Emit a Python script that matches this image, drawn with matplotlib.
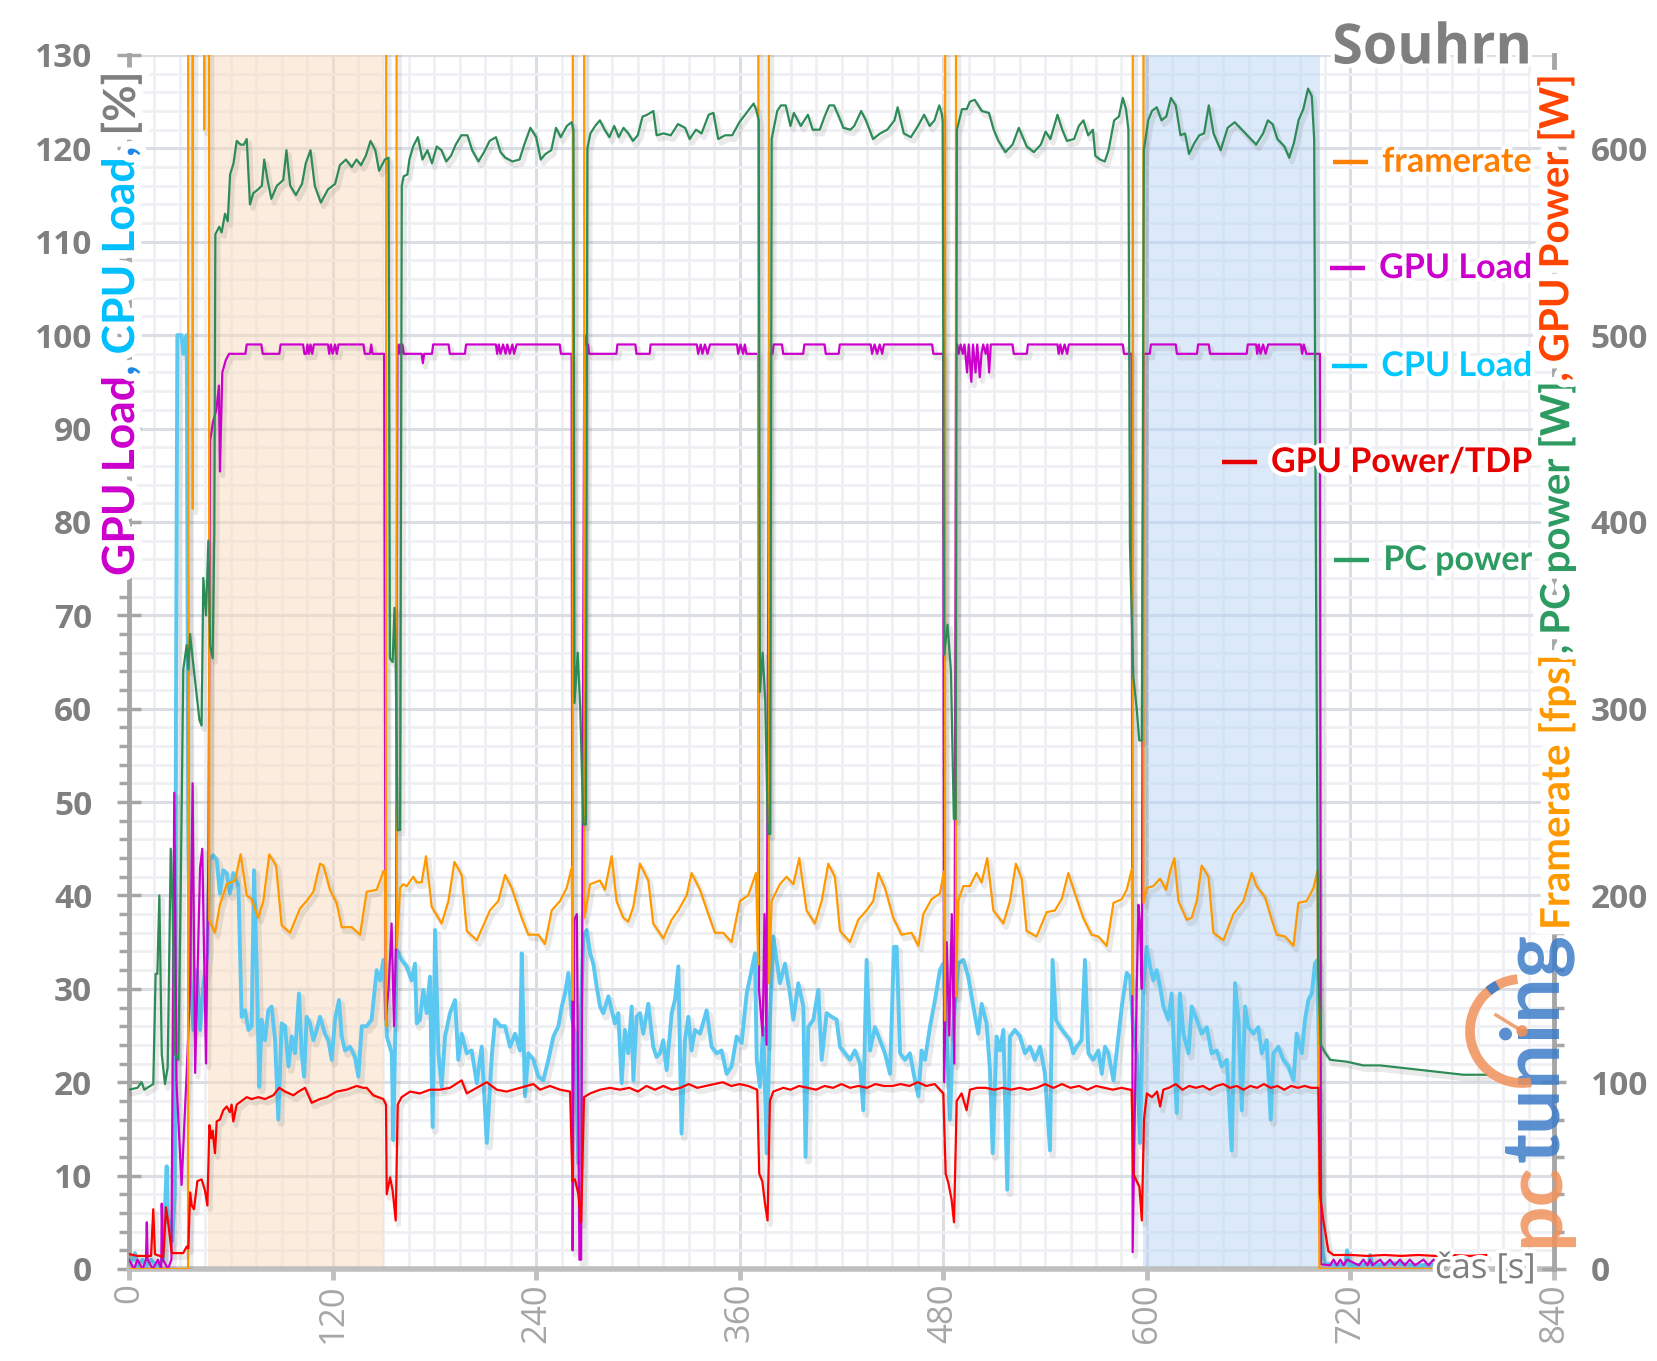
import matplotlib
matplotlib.use("Agg")
import matplotlib.pyplot as plt
from matplotlib import patheffects as pe
from matplotlib.patches import Arc, Circle
from matplotlib.lines import Line2D
from matplotlib.ticker import MultipleLocator

# ---------------- data ----------------
# time axis in seconds; loads in %, framerate in fps, power in W

# framerate [fps] (right axis) - values above 650 are loading spikes off the chart
fps_t = [0, 34.8, 35.2, 36.2, 37.6, 38.9, 44.0, 44.3, 44.6, 46.5, 47.3,
         50.7, 53.6, 57.6, 62.5, 65.8, 69.4, 72.3, 76.2, 79.2, 82.7, 86.7, 90, 94.9, 100.8,
         104.7, 108.7, 112.6, 114.6, 118.5, 122.4, 125.4, 131.3, 136.2, 140.1, 146, 150, 151,
         151.5, 152, 157.2, 157.8,
         159.8, 161.7, 163.7, 167.6, 169.6, 172.5, 175.1, 178.4, 184.3, 188.3, 191.8, 196.1,
         199.1, 205, 212.8, 217.7, 221.7, 225.6, 231.5, 235.4, 241.3, 245.2, 249.2, 254.1, 258,
         261, 261.5, 262, 267.8, 268.4,
         271.8, 277.6, 280.5, 284.5, 287.4, 291.4, 294.3, 297.3, 301.2, 306.1, 309, 314.9,
         319.9, 323.8, 328.7, 331.6, 336.6, 341.5, 345.4, 350.3, 355.2, 360.1, 365, 369.6,
         370.9, 371.4, 376.8, 377.2,
         378.8, 383.7, 387.6, 391.6, 395.1, 399.4, 404.3, 408.3, 412.2, 416.1, 419.1, 425,
         429.9, 434.8, 438.7, 441.7, 445.6, 450.5, 455.4, 461.3, 465.3, 468.2, 473.1, 478,
         480.4, 481, 481.5, 487.2, 487.5,
         488.8, 491.8, 495.7, 499.6, 502.6, 505.9, 509.5, 515.4, 519.3, 522.8, 526.2, 529.1,
         535, 540.9, 545.8, 549.8, 553.7, 557.6, 562.5, 567.4, 571.4, 576.3, 580.3, 585.2,
         588.1, 591.1, 591.6, 592, 597.6, 598,
         599.9, 603.8, 607.8, 611.3, 613.7, 616.2, 618.6, 623.5, 626.4, 629.4, 632.3, 636.3,
         639.2, 645.1, 651, 656.9, 661.8, 664.7, 669.7, 673.6, 676.5, 681.5, 686.4, 689.3,
         694.2, 698.2, 700.5, 701.7, 774]
fps = [0, 0, 3000, 3000, 407, 3000, 3000, 610, 3000, 3000, 187,
       180, 195, 206, 208, 222, 200, 198, 188, 197, 222, 216, 184, 180, 193,
       197, 202, 217, 216, 203, 196, 183, 183, 179, 202, 203, 213, 213,
       130, 3000, 3000, 172,
       204, 206, 205, 210, 207, 207, 221, 194, 185, 197, 218, 211,
       181, 176, 192, 197, 211, 204, 188, 179, 179, 174, 192, 197, 204,
       215, 144, 3000, 3000, 188,
       206, 208, 203, 221, 197, 188, 186, 194, 217, 208, 185, 177,
       187, 192, 200, 212, 203, 190, 180, 180, 175, 197, 200, 212,
       163, 3000, 3000, 153,
       197, 206, 210, 206, 220, 192, 185, 197, 217, 210, 181, 175,
       187, 192, 197, 212, 204, 188, 179, 180, 173, 190, 198, 201,
       213, 133, 3000, 3000, 146,
       197, 205, 205, 212, 207, 220, 192, 185, 197, 217, 209, 181,
       178, 191, 192, 198, 212, 201, 188, 179, 178, 173, 196, 198,
       203, 214, 147, 3000, 3000, 196,
       204, 205, 209, 203, 213, 220, 197, 187, 188, 197, 216, 210,
       180, 176, 190, 197, 212, 205, 199, 187, 179, 178, 173, 196,
       197, 204, 213, 0, 0]

# GPU load [%]
gpu_t = [0, 3, 5, 8, 10, 10.5, 11, 14, 17, 19, 19.3, 20, 23, 25, 26.7, 28, 31, 34, 36, 37.5,
         39, 41.9, 43.2, 45.4, 46.8, 47.8, 49.5, 51.5, 53, 53.6, 55, 57, 59,
         68.6, 69.4, 78.0, 78.8, 88.6, 89.4, 102.6, 103.4, 104.5, 105.2, 106, 107, 108, 109,
         117.3, 118, 119, 120, 121.5, 122.5, 123.5, 138.2, 139, 142, 142.8, 143.5, 150.4,
         151.3, 153, 154.8, 156.2, 157.4, 158.2,
         159, 159.8, 160.5, 161.2, 162, 172.5, 173.2, 174, 178.6, 179.3, 188.4, 189.1, 198,
         198.7, 216.3, 217, 218, 219, 220.5, 222, 223, 224.5, 226, 227, 228.5, 253.9, 254.6,
         260.9, 261.5, 262.5, 264, 265.5, 266.5, 268.4, 269, 270.6,
         271.2, 287.3, 287.9, 298.5, 299.1, 306.9, 307.5, 334.7, 335.5, 337, 338, 339.5, 341,
         342.5, 358.4, 359.1, 360.5, 362, 363, 364, 370.8, 371.3, 373.5, 374.6, 375.8, 377.3,
         379.3, 380, 384.9, 385.6, 397.4, 398.1, 410, 410.7, 418.3, 419, 437.2, 438, 439.5,
         441, 442.5, 444, 445, 453.5, 454.5, 473.4, 474.1, 479.9, 480.5, 482, 483.5, 485,
         486.5, 487.5,
         488.2, 489, 490.2, 491.5, 492.5, 494, 495, 496.5, 497.5, 499, 500, 501.5, 502.5,
         503.5, 505, 506, 507, 508, 520.8, 521.5, 529.2, 529.9, 547.3, 548, 549, 550, 551.5,
         553, 554, 585.8, 586.5, 591, 591.6, 594, 595, 596, 597, 598,
         601.7, 602.4, 617, 617.7, 629.5, 630.2, 636.5, 637.2, 658.8, 659.5, 664.4, 665, 666,
         667, 668.5, 670, 671.5, 690.8, 691.5, 692.5, 694, 702, 702.6,
         708, 710, 712, 714, 716, 718, 725, 727.6, 730, 731.6, 733, 737.5, 740, 743.3, 746,
         749.2, 752, 755, 758, 763, 766, 769, 772, 774]
gpu = [1, 0, 1, 0, 1, 5, 1, 0, 1, 0, 7, 1, 0, 1, 51, 20, 9, 21, 30, 52,
       21, 43, 45, 22, 44, 88.7, 90.7, 92, 94.6, 85.4, 96, 97.3, 98,
       98, 99, 99, 98, 98, 99, 99, 98, 98, 99, 98, 99, 98, 99,
       99, 98, 99, 98, 99, 98, 99, 99, 98, 98, 99, 98, 98,
       26.7, 30, 37, 26, 35, 99,
       98, 99, 98, 99, 98, 98, 97, 98, 98, 99, 99, 98, 98,
       99, 99, 98, 99, 98, 99, 98, 99, 98, 99, 98, 99, 99, 98,
       98, 2, 37.4, 38, 1, 1, 100, 99, 99,
       98, 98, 99, 99, 98, 98, 99, 99, 98, 99, 98, 99, 98,
       99, 99, 98, 99, 98, 99, 98, 98, 30, 25, 38, 24, 98,
       98, 99, 99, 98, 98, 99, 99, 98, 98, 99, 99, 98, 99,
       98, 99, 98, 99, 99, 99, 99, 98, 98, 20, 35, 25, 38,
       22, 98,
       99, 98, 99, 98, 99, 96, 99, 95, 99, 96, 99, 95.5, 98,
       99, 98, 99, 96, 99, 99, 98, 98, 99, 99, 98, 99, 98, 99,
       98, 99, 99, 98, 98, 1.8, 30, 39, 36.7, 30, 98,
       98, 99, 99, 98, 98, 99, 99, 98, 98, 99, 99, 98, 99,
       98, 99, 98, 99, 99, 98, 99, 98, 98, 0.5,
       0.4, 1, 0.4, 1, 0.4, 1, 0.4, 1, 0.4, 1, 0.4, 1, 0.4, 1, 0.4,
       1, 0.4, 1, 0.4, 1, 0.4, 1, 0.4, 0.4]

# CPU load [%]
cpu_t = [0, 2, 3.5, 5, 8, 10, 13, 16, 20, 22.2, 23, 24, 25.5, 27, 27.7, 28.5, 31, 32, 34, 35,
         36, 38, 40, 41.9, 43.8, 46.2, 47.4, 49.7, 51.7, 53.6, 55.6, 57.6, 59.5, 61.5, 64.5,
         66.4, 68.4, 70.4, 72.3, 73.7, 75.3, 76.8, 78.2, 80.2, 82.1, 84.1, 86.1, 88, 90, 92,
         94, 95.9, 97.9, 100.2, 101.8, 103.2, 104.7, 106.7, 108.7, 110.6, 112.6, 115.5, 117.5,
         119.5, 121.4, 123.8, 125.4, 127.3, 130.3, 133.2, 135.2, 137.2, 140.1, 143, 146, 148,
         150, 152, 154.9, 155.8, 157.8, 160.7, 163.7, 166.6, 168.6, 169.6, 171.5, 173.5,
         175.5, 177.4, 179, 180.4, 182.4, 184.3, 186.3, 189.2, 192.2, 194.1, 196.1, 199.1,
         202, 205, 207.9, 210.9, 213.8, 215.8, 218.7, 221.7, 224.6, 227.6, 230.5, 231.5,
         233.4, 235.4, 238.4, 241.3, 244.2, 247.2, 250.2, 253.1, 255.1, 257, 259, 261, 262.9,
         264.9, 266.3, 267.8, 269.8, 271.8, 273.7, 275.7, 277.7, 279.6, 282.6, 286.4, 288.4,
         290.4, 292.3, 294.3, 296.3, 297.3, 299.2, 301.2, 303.1, 306.1, 309, 311, 313, 314.9,
         316.9, 319.9, 321.8, 323.8, 325.7, 327.7, 329.7, 331.6, 333.6, 336.6, 340.5, 343.4,
         346.4, 349.3, 352.3, 355.2, 358.2, 361.1, 364.1, 367, 369, 370, 371.9, 373.9, 375.9,
         377.8, 379.8, 381.7, 383.7, 386.7, 389.6, 391.6, 394.5, 397.5, 398.8, 400.4, 403.4,
         406.3, 408.3, 411.2, 414.2, 417.1, 419.1, 422, 425, 427.9, 430.9, 432.8, 434.8,
         436.8, 439.7, 442.7, 445.6, 448.6, 450.9, 452.5, 454.5, 457.4, 460.3, 463.3, 465.3,
         467.2, 469.2, 472.1, 475.1, 478, 480, 482, 483.9, 485.9, 488.8, 491.8, 494.7, 497.7,
         500.6, 502.6, 505.5, 507.5, 509.1, 511.4, 513.4, 515.4, 517.7, 519.3, 522.2, 525.2,
         528.1, 531.1, 534, 537, 539.9, 542.9, 544.4, 546.4, 548.8, 551.7, 554.7, 556.6,
         558.6, 561.5, 563.5, 565.5, 568.4, 571.4, 573.4, 575.3, 577.3, 580.3, 583.2, 585.2,
         588.1, 590.1, 592, 594, 596, 597.9, 599.9, 601.9, 603.8, 605.8, 607.8, 609.7, 612.7,
         614.6, 617.6, 619.5, 621.5, 624.5, 626.4, 629.4, 632.3, 635.3, 638.2, 641.2, 644.1,
         647.1, 650, 652, 654, 655.9, 657.9, 659.8, 662.8, 665.7, 667.7, 670.6, 673, 674.6,
         677.5, 680.5, 683.4, 686.4, 688.3, 691.3, 693.2, 695.2, 697.2, 699.1, 700.5, 701.7,
         702.5, 703.7, 705, 712, 717, 718, 719.5, 731, 731.6, 733, 745, 760, 773]
cpu = [0.5, 1.0, 1.7, 0.3, 1.0, 0.3, 1.0, 0.3, 1.0, 11, 5, 5.2, 3, 8, 60, 100, 100, 98, 100, 45,
       31.7, 25.6, 32, 25.6, 30.2, 33.8, 43.8, 44.3, 43.8, 40.2, 42.7, 42.4, 40.2, 42.4, 41,
       27, 27.7, 25.6, 26, 42.7, 32, 19.5, 26.7, 24.5, 27.7, 28.1, 24.5, 16, 26.3, 26,
       21.7, 24.9, 23.1, 29.5, 23.1, 20.6, 27, 26.3, 24.5, 25.6, 27, 25.2, 24.5,
       22.4, 26.7, 28.8, 24.9, 23.4, 23.8, 22.7, 20.6, 26, 26, 26.7, 32, 30.9,
       33.1, 24.9, 23.1, 13.8, 34.2, 33.1, 32.4, 30.9, 32.7, 26.3, 26.7, 29.9,
       27.4, 31.3, 15.2, 36.3, 23.1, 19.5, 24.9, 27.4, 28.8, 22.4, 25.2, 23.1,
       23.4, 19.9, 23.8, 13.5, 22.7, 26.7, 26, 26, 23.8, 25.2, 23.4, 33.8,
       18.5, 23.1, 22.4, 20.6, 20.2, 22.4, 24.9, 26, 28.1, 29.5, 31.7, 27, 25.2,
       11.3, 27, 35.6, 36.3, 33.8, 32.7, 30.2, 28.1, 27.4, 29.2, 26.3, 27.4,
       19.9, 25.6, 23.1, 28.1, 20.2, 27, 27.4, 25.2, 28.4, 23.8, 22.7, 23.1, 24.5,
       21.3, 27.4, 28.8, 32.4, 14.5, 24.5, 27, 23.4, 25.6, 25.2, 27.7, 23.8,
       23.1, 23.4, 20.9, 21.7, 24.9, 24.2, 29.5, 32, 33.8, 22.4, 19.5, 25.9, 12.4,
       26.7, 35.6, 33.1, 30.6, 32.7, 29.5, 26.7, 30.6, 28.1, 12, 25.9, 26.7,
       29.9, 22.4, 27.4, 27, 26.7, 23.8, 23.1, 22.4, 23.4, 22, 17, 33.1,
       23.4, 25.9, 24.5, 23.1, 20.9, 34.5, 34.5, 23.1, 22.4, 23.1, 20.2, 18.5,
       23.4, 22.4, 25.9, 28.8, 32, 32.7, 24.9, 16, 25.9, 32.7, 33.1, 31.3, 28.1,
       25.2, 28.4, 26.3, 21.3, 12.4, 24.9, 23.4, 25.6, 8.5, 24.9, 25.6, 24.9,
       23.1, 23.8, 22.4, 23.8, 20.9, 12.7, 33.1, 26.7, 25.9, 25.2, 24.5, 23.1,
       23.8, 24.5, 33.1, 23.1, 22.4, 23.4, 20.9, 23.8, 23.1, 20.2, 24.9, 28.1,
       31.7, 31.3, 25.2, 23.1, 13.5, 30.2, 34.5, 32.4, 30.9, 32, 30.2, 28.1, 26.7,
       29.5, 16.7, 29.5, 25.2, 23.1, 28.1, 26.7, 25.2, 25.9, 23.1, 23.4, 21.7,
       22.4, 12.7, 30.6, 26.7, 17, 28.1, 25.9, 25.2, 25.9, 23.1, 24.5, 16, 23.1,
       23.8, 22.4, 21.7, 20.2, 25.2, 23.1, 26.7, 28.8, 29.5, 32.7, 33.1, 19.5,
       5.2, 1.7, 0.6, 0.4, 0.5, 2.0, 0.4, 0.5, 1.5, 0.4, 0.6, 0.4, 0.5]

# GPU power [W] (right axis)
gpw_t = [0, 5, 13, 14.3, 15.3, 16.3, 20.2, 21.8, 23.2, 25.2, 28.1, 32, 34, 35, 36, 37, 38.3,
         40.3, 42.8, 44.8, 46.2, 47.4, 48.5, 49.3, 50.7, 51.7, 53.6, 55.6, 57.6, 59.5, 60.5,
         61.5, 63.5, 66.4, 69.4, 72.3, 76.2, 80.2, 85.1, 88.6, 92, 96.9, 100, 103.8, 107.7,
         112.6, 116.5, 122.4, 128.3, 134.2, 138, 140.1, 144, 149.9, 151.5, 151.9, 153.9,
         155.4, 157.2, 158.4, 160.7, 165.7, 171.5, 177.4, 183.3, 189.2, 196.1, 199.1, 205,
         210.9, 216.8, 222.6, 230.5, 238.4, 242.3, 248.2, 254.1, 260, 261.4, 262.9, 264.9,
         266.5, 268.2, 271.8, 277.7, 283.6, 289.4, 295, 300, 305, 310, 315, 320, 325, 330,
         335, 340, 345, 350, 355, 360, 365, 370.3, 371.5, 373.3, 374.9, 376.4, 377.8, 379.8,
         385.7, 390, 395, 400, 405, 410, 415, 420, 425, 430, 435, 440, 445, 450, 455, 460,
         465, 470, 475, 480, 481.4, 483, 484.9, 486.3, 487.9, 490.8, 493.7, 495.7, 500, 505,
         510, 515, 520, 525, 530, 535, 540, 545, 550, 555, 560, 565, 570, 575, 580, 585, 590,
         591, 592, 594, 595.6, 597, 598.3, 600, 603, 606, 607.8, 609.7, 613, 617, 621, 625,
         629, 633, 637, 641, 645, 649, 653, 657, 661, 665, 669, 673, 677, 681, 685, 689, 693,
         697, 701.1, 702, 704, 707, 710, 720, 730, 740, 750, 760, 770, 780, 790, 800]
gpw = [8, 7, 7, 32, 8, 7.5, 6.5, 33, 24, 8.5, 8.5, 8.5, 12, 11, 41, 34, 32,
       47, 48, 42, 34, 77, 70, 74, 62, 79, 80, 85, 87, 84, 88,
       79, 88, 90, 92, 91, 92, 91, 93, 97, 95, 93, 95, 97, 89,
       91, 92, 95, 96, 98, 97, 97, 93, 91, 88, 40, 49,
       42, 26, 88, 92, 95, 94, 96, 96, 97, 101, 94, 97,
       100, 96, 95, 97, 99, 96, 98, 96, 95, 47, 48, 40,
       25, 92, 94, 96, 97, 96, 97, 95, 98, 96, 98, 96, 97, 99,
       97, 98, 99, 100, 98, 99, 98, 96, 51, 47, 35, 26, 90, 95,
       97, 96, 98, 97, 96, 98, 97, 99, 97, 98, 97, 99, 98, 98, 99, 98,
       100, 98, 99, 94, 51, 46, 37, 25, 90, 94, 85, 96, 97, 97,
       96, 97, 96, 97, 96, 97, 99, 97, 99, 97, 98, 96, 98, 97, 96, 97, 96,
       96, 51, 47, 44, 26, 80, 94, 92, 95, 87, 96, 97, 99, 96, 98,
       97, 98, 96, 98, 99, 97, 98, 96, 98, 97, 99, 97, 98, 96, 98, 97, 98,
       97, 97, 40, 26, 9.5, 7.5, 7.5, 7, 7.5, 7, 7.5, 7, 7.5, 7, 7.5]

# PC power [W] (right axis)
pc_t = [0, 5, 7.5, 9, 14.3, 15.7, 16.7, 17.9, 19.3, 21.2, 22.8, 24.6, 25.7, 27.1, 29.1, 30.5,
        32, 34, 35, 36, 37.5, 39.9, 41.5, 42.8, 43.8, 45.4, 46.8, 47.8, 49.3, 50.3, 50.9,
        53.2, 54.6, 56.6, 58.2, 59.6, 61.6, 63.5, 65.8, 67.7, 69.4, 71.3, 73.3, 76.1, 78.3,
        79.7, 81.7, 83.9, 87.2, 90.9, 92.8, 95, 98.4, 102, 104.2, 107, 109.5, 113.1, 117.3,
        121.5, 124.3, 127.9, 131.3, 134.1, 136.8, 139.6, 142.4, 145.2, 147.4, 150.8, 153,
        153.8, 155.4, 156.5, 157.2, 158.3, 159.8, 160.8,
        161.9, 164.1, 165.3, 167.5, 170.3, 173, 175.9, 178.6, 181.4, 184.2, 187, 189.8,
        192.6, 195.9, 199.5, 202.3, 206, 209.3, 212.6, 216.3, 219, 221.8, 226, 230.2, 233,
        236.6, 240, 242.7, 245.5, 248.9, 251.7, 254.5, 258.1, 260.9, 262,
        262.6, 264.5, 266, 267.8, 269.3, 270.2,
        272, 274.8, 277.6, 280.4, 283.2, 286, 288.7, 291.5, 294.3, 297.1, 299.9, 302.7,
        305.5, 309.1, 311, 315.2, 319.4, 323.6, 327.8, 330.5, 334.2, 337.5, 341.7, 344.5,
        347.3, 351.4, 355.6, 359.8, 364, 368.2, 369.6, 371.2,
        371.9, 373.5, 375, 376.6, 378, 378.8,
        382.1, 384.3, 387.1, 389.9, 391.9, 396, 400.2, 403, 407.2, 410, 412.8, 415.6,
        418.9, 421.1, 425.3, 427.5, 431.6, 434.4, 438.6, 442.8, 447, 451.2, 453.1, 456.7,
        460.9, 465.1, 468.7, 472, 474.8, 477.6, 479, 479.6,
        480.5, 482.5, 484.5, 486.2, 487.3, 488,
        491, 493.8, 495.7, 498.5, 502.7, 506.9, 509.7, 512.5, 516.6, 520.8, 524.5, 529.2,
        533.4, 537.5, 540.3, 543.1, 547.3, 550.1, 552.9, 557.1, 559.9, 562.6, 565.4, 568.2,
        569.6, 572.4, 575.2, 577.4, 580.7, 583.5, 585.8, 587.7, 589.1,
        590, 592, 594, 595.5, 597, 598.2,
        600.8, 603, 605.8, 608.6, 611.4, 614.2, 617, 619.8, 622.5, 624.8, 628.1, 630.9,
        633.7, 636.5, 639.3, 643.5, 647.6, 651.8, 656, 660.2, 664.4, 668.5, 671.3, 674.1,
        676.9, 681.1, 683.9, 686.7, 689.4, 692.2, 695, 697.2, 698.6, 699.5, 701, 702.5,
        705, 708, 717.8, 727.6, 737.5, 747.3, 757.1, 766.9, 776.8, 786.6, 800.3]
pc = [96, 97, 100, 96, 99, 158, 158, 200, 115, 99, 108, 225, 196, 115, 112, 204,
      321, 334, 321, 340, 327, 307, 294, 291, 370, 350, 390, 334, 327, 394, 554,
      558, 555, 565, 561, 586, 592, 604, 602, 602, 605, 570, 576, 578, 580,
      594, 583, 573, 580, 583, 599, 580, 575, 581, 592, 599, 580, 571, 578,
      581, 591, 594, 590, 594, 591, 596, 604, 599, 588, 594, 595,
      327, 325, 354, 325, 235, 235, 580,
      585, 586, 594, 601, 606, 594, 599, 592, 601, 599, 593, 596,
      602, 607, 607, 599, 593, 598, 604, 606, 598, 595, 593, 594, 602,
      611, 606, 594, 597, 599, 611, 606, 612, 614, 610,
      303, 330, 300, 238, 238, 600,
      608, 612, 615, 610, 606, 612, 606, 611, 608, 604, 607, 617,
      618, 620, 607, 608, 607, 613, 611, 605, 610, 608, 618, 619,
      605, 607, 607, 614, 619, 624, 621, 615,
      309, 330, 305, 233, 233, 605,
      620, 623, 623, 612, 619, 612, 618, 610, 610, 617, 623, 623,
      616, 611, 610, 612, 620, 615, 605, 608, 610, 615, 622, 608,
      606, 612, 618, 612, 615, 623, 619, 615,
      329, 345, 320, 241, 241, 610,
      621, 621, 625, 626, 620, 619, 610, 604, 598, 602, 611, 601,
      598, 602, 609, 605, 618, 610, 604, 605, 612, 615, 607, 610,
      596, 594, 593, 599, 615, 617, 627, 621, 610,
      388, 317, 300, 283, 283, 599,
      615, 620, 622, 615, 617, 627, 623, 607, 608, 597, 603, 607,
      608, 623, 608, 599, 611, 614, 610, 606, 602, 608, 615, 613,
      605, 601, 595, 603, 615, 621, 632, 628, 605, 400, 160, 120,
      116, 112, 111, 109, 109, 108, 107, 106, 105, 104, 104]

# highlighted test segments [s]
band_first = (46.6, 150.5)
band_last = (597.8, 701.8)

# axes ticks
x_ticks = [0, 120, 240, 360, 480, 600, 720, 840]
x_labels = ['0', '120', '240', '360', '480', '600', '720', '840']
left_ticks = [0, 10, 20, 30, 40, 50, 60, 70, 80, 90, 100, 110, 120, 130]
left_labels = ['0', '10', '20', '30', '40', '50', '60', '70', '80', '90', '100', '110', '120', '130']
right_ticks = [0, 100, 200, 300, 400, 500, 600]
right_labels = ['0', '100', '200', '300', '400', '500', '600']

legend_names = ['framerate', 'GPU Load', 'CPU Load', 'GPU Power/TDP', 'PC power']
legend_colors = ['#FF7F00', '#CC00CC', '#00C8FF', '#E60000', '#2E9B63']

# ---------------- figure ----------------
GREY = '#7F7F7F'
AXGREY = '#A6A6A6'
glow = [pe.withStroke(linewidth=6, foreground='white')]
wide_glow = [pe.withStroke(linewidth=11, foreground='white')]


def shadow(lw):
    return [pe.SimpleLineShadow(offset=(2, -3), shadow_color='#555555', alpha=0.12, linewidth=lw + 2),
            pe.Normal()]


fig = plt.figure(figsize=(16.58, 13.61), dpi=100)
ax = fig.add_axes([0.0778, 0.0676, 0.8595, 0.892])
ax.set_xlim(0, 840)
ax.set_ylim(0, 130)

# grid
ax.set_axisbelow(True)
ax.xaxis.set_minor_locator(MultipleLocator(15))
ax.yaxis.set_minor_locator(MultipleLocator(2))
ax.grid(which='minor', color='#EEF0F3', lw=2.0)
ax.grid(which='major', color='#DADDE3', lw=2.2)

# shaded segments
ax.axvspan(*band_first, color='#F9DBBD', alpha=0.5, lw=0, zorder=1)
ax.axvspan(*band_last, color='#B9D5F5', alpha=0.5, lw=0, zorder=1)

# left axis series
ax.plot(cpu_t, cpu, color='#5BC8F2', lw=2.8, zorder=3, path_effects=shadow(2.8))
ax.plot(gpu_t, gpu, color='#CC00CC', lw=1.6, zorder=4, path_effects=shadow(1.6))

ax.set_xticks(x_ticks)
ax.set_xticklabels(x_labels, rotation=90, fontsize=25, color=AXGREY, family='Open Sans')
ax.set_yticks(left_ticks)
ax.set_yticklabels(left_labels, fontsize=24, fontweight='bold', color=GREY, family='Open Sans')

for s in ['top', 'right']:
    ax.spines[s].set_visible(False)
ax.spines['left'].set_color(AXGREY)
ax.spines['left'].set_linewidth(3.5)
ax.spines['bottom'].set_color('#BFBFBF')
ax.spines['bottom'].set_linewidth(4)
ax.tick_params(axis='x', which='major', direction='out', length=8, width=3.5,
               color='#BFBFBF', pad=2)
ax.tick_params(axis='x', which='minor', length=0)
ax.tick_params(axis='y', which='major', direction='inout', length=17, width=2.5,
               color=AXGREY, pad=18)
ax.tick_params(axis='y', which='minor', direction='out', length=7, width=2.5, color=AXGREY)

# right axis series
ax2 = ax.twinx()
ax2.set_ylim(0, 650)
ax2.plot(fps_t, fps, color='#FF9900', lw=1.6, zorder=3, path_effects=shadow(1.6))
ax2.plot(pc_t, pc, color='#2E8B57', lw=1.6, zorder=4, path_effects=shadow(1.6))
ax2.plot(gpw_t, gpw, color='#FF0000', lw=1.6, zorder=5, path_effects=shadow(1.6))
ax2.set_yticks(right_ticks)
ax2.set_yticklabels(right_labels, fontsize=24, fontweight='bold', color=GREY, family='Open Sans')
ax2.yaxis.set_minor_locator(MultipleLocator(20))
for s in ['top', 'left', 'bottom']:
    ax2.spines[s].set_visible(False)
ax2.spines['right'].set_color(AXGREY)
ax2.spines['right'].set_linewidth(3.5)
ax2.tick_params(axis='y', which='major', direction='inout', length=17, width=2.5,
                color=AXGREY, pad=18)
ax2.tick_params(axis='y', which='minor', direction='out', length=7, width=2.5, color=AXGREY)

# legend: right aligned texts, a short dash drawn in front of each
leg_y = [0.912, 0.8245, 0.7438, 0.6647, 0.584]
leg_texts = []
for name, col, yy in zip(legend_names, legend_colors, leg_y):
    leg_texts.append(ax2.text(0.9846, yy, name, transform=ax.transAxes, ha='right',
                              va='center', fontsize=24.5, fontweight='bold', color=col,
                              family='Lato', zorder=20, path_effects=glow))


def stacked_label(axis, x, y, pieces, size):
    prev = axis.text(x, y, pieces[0][0], color=pieces[0][1], transform=fig.transFigure,
                     rotation=90, ha='center', va='bottom', fontsize=size, fontweight='bold',
                     family='Lato', zorder=20, path_effects=wide_glow)
    for txt, col in pieces[1:]:
        prev = axis.annotate(txt, xy=(0, 1), xycoords=prev, ha='left', va='bottom',
                             rotation=90, color=col, fontsize=size, fontweight='bold',
                             family='Lato', zorder=20, path_effects=wide_glow)


stacked_label(ax, 0.073, 0.5768,
              [('GPU Load', '#CC00CC'), (', ', '#1E88E5'), ('CPU Load', '#00BFFF'),
               (', ', '#1E88E5'), ('[%]', GREY)], 32)
stacked_label(ax2, 0.939, 0.3167,
              [('Framerate [fps]', '#FF9900'), (', ', '#2E9B63'), ('PC power [W]', '#2E9B63'),
               (', ', '#FF4500'), ('GPU Power [W]', '#FF4500')], 29)

# title and x label
fig.text(0.924, 0.964, 'Souhrn', ha='right', va='center', fontsize=40, fontweight='bold',
         color=GREY, family='Open Sans', zorder=20, path_effects=glow)
ax2.text(0.987, 0.0, 'čas [s]', transform=ax.transAxes, ha='right', va='center',
         fontsize=25, color=GREY, family='Open Sans', zorder=20, path_effects=glow)

# pcTuning watermark
logo = fig.text(0.926, 0.084, 'pc', rotation=90, ha='center', va='bottom', fontsize=58,
                fontweight='bold', color='#F0915A', alpha=0.85, family='Lato', zorder=30)
fig.add_artist(plt.Annotation('tuning', xy=(0, 1), xycoords=logo, ha='left', va='bottom',
                              rotation=90, fontsize=58, fontweight='bold', color='#3D7CC9',
                              alpha=0.85, family='Lato', zorder=30))
cx, cy, r = 15.22, 3.30, 0.52
fig.add_artist(Arc((cx, cy), 2 * r, 2 * r, theta1=95, theta2=280, lw=7, color='#F0915A',
                   alpha=0.85, transform=fig.dpi_scale_trans, zorder=30))
fig.add_artist(Arc((cx, cy), 2 * r, 2 * r, theta1=118, theta2=130, lw=7, color='#3D7CC9',
                   alpha=0.9, transform=fig.dpi_scale_trans, zorder=31))
fig.add_artist(Line2D([cx, cx - 0.26], [cy, cy + 0.16], lw=2.5, color='#F0915A', alpha=0.85,
                      transform=fig.dpi_scale_trans, zorder=30))
fig.add_artist(Circle((cx, cy), 0.05, color='#F0915A', alpha=0.85,
                      transform=fig.dpi_scale_trans, zorder=30))

# legend dashes placed from the measured text extents
fig.canvas.draw()
inv = fig.transFigure.inverted()
for t, col in zip(leg_texts, legend_colors):
    bb = t.get_window_extent()
    ymid = (bb.y0 + bb.y1) / 2
    x1 = bb.x0 - 14
    (fx0, fy), (fx1, _) = inv.transform([(x1 - 35, ymid), (x1, ymid)])
    fig.add_artist(Line2D([fx0, fx1], [fy, fy], lw=3.2, color=col, zorder=20,
                          solid_capstyle='butt'))

fig.savefig('out.png', dpi=100)
